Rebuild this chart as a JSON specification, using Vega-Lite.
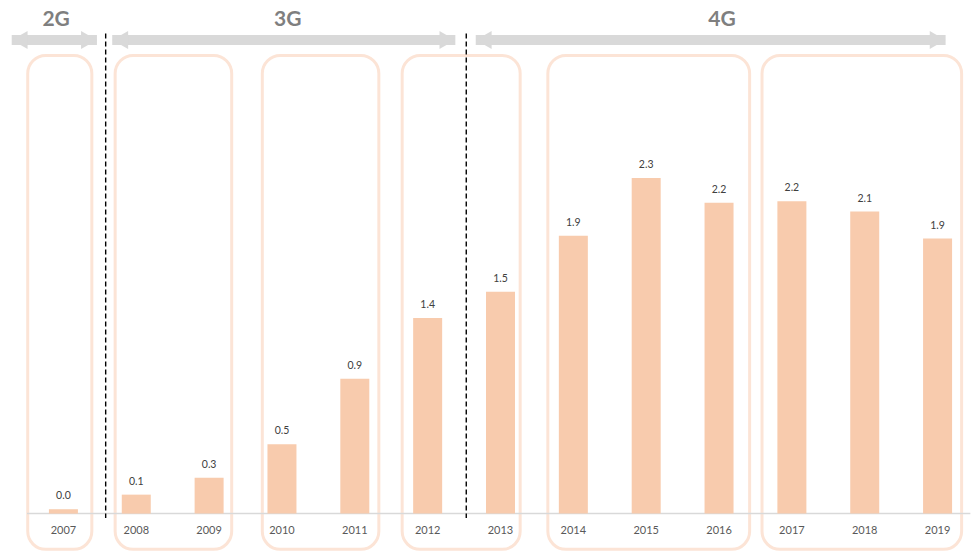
{
  "$schema": "https://vega.github.io/schema/vega-lite/v6.json",
  "width": 947,
  "height": 553,
  "padding": {"left": 27, "right": 0, "top": 0, "bottom": 0},
  "autosize": {"type": "none"},
  "config": {"view": {"stroke": null}, "font": "Lato"},
  "datasets": {
    "bars": [
      {"year": 2007, "value": 0.03, "label": "0.0"},
      {"year": 2008, "value": 0.13, "label": "0.1"},
      {"year": 2009, "value": 0.245, "label": "0.3"},
      {"year": 2010, "value": 0.475, "label": "0.5"},
      {"year": 2011, "value": 0.925, "label": "0.9"},
      {"year": 2012, "value": 1.34, "label": "1.4"},
      {"year": 2013, "value": 1.52, "label": "1.5"},
      {"year": 2014, "value": 1.905, "label": "1.9"},
      {"year": 2015, "value": 2.3, "label": "2.3"},
      {"year": 2016, "value": 2.13, "label": "2.2"},
      {"year": 2017, "value": 2.14, "label": "2.2"},
      {"year": 2018, "value": 2.07, "label": "2.1"},
      {"year": 2019, "value": 1.885, "label": "1.9"}
    ],
    "groups": [
      {"start": 2006.51, "end": 2007.39},
      {"start": 2007.71, "end": 2009.31},
      {"start": 2009.73, "end": 2011.33},
      {"start": 2011.65, "end": 2013.27},
      {"start": 2013.65, "end": 2016.42},
      {"start": 2016.59, "end": 2019.33}
    ],
    "dividers": [{"x": 2007.58}, {"x": 2012.53}],
    "eras": [
      {"era": "2G", "start": 2006.29, "end": 2007.46, "mid": 2006.9},
      {"era": "3G", "start": 2007.67, "end": 2012.38, "mid": 2010.08},
      {"era": "4G", "start": 2012.66, "end": 2019.11, "mid": 2016.04}
    ]
  },
  "layer": [
    {
      "data": {"name": "groups"},
      "mark": {"type": "rect", "cornerRadius": 18, "fill": null, "fillOpacity": 0, "stroke": "#fce4d6", "strokeWidth": 3},
      "encoding": {
        "x": {"field": "start", "type": "quantitative", "scale": {"domain": [2006.5, 2019.5], "nice": false, "zero": false, "padding": 0}, "axis": null},
        "x2": {"field": "end"},
        "y": {"datum": 3.14, "type": "quantitative", "scale": {"domain": [-0.27, 3.52], "nice": false, "zero": false, "padding": 0}, "axis": null},
        "y2": {"datum": -0.245}
      }
    },
    {
      "data": {"values": [{"a": 1}]},
      "mark": {"type": "rule", "color": "#d9d9d9", "strokeWidth": 1.5},
      "encoding": {
        "x": {"datum": 2006.5, "type": "quantitative"},
        "x2": {"datum": 2019.45},
        "y": {"datum": 0, "type": "quantitative"}
      }
    },
    {
      "data": {"name": "dividers"},
      "mark": {"type": "rule", "color": "#000000", "strokeWidth": 1.4, "strokeDash": [5, 3]},
      "encoding": {
        "x": {"field": "x", "type": "quantitative"},
        "y": {"datum": 3.29, "type": "quantitative"},
        "y2": {"datum": -0.03}
      }
    },
    {
      "data": {"name": "bars"},
      "mark": {"type": "bar", "width": 29, "color": "#f8cbad"},
      "encoding": {
        "x": {"field": "year", "type": "quantitative"},
        "y": {"field": "value", "type": "quantitative"},
        "y2": {"datum": 0}
      }
    },
    {
      "data": {"name": "bars"},
      "mark": {"type": "text", "fontSize": 10.5, "color": "#404040", "baseline": "bottom", "dy": -8},
      "encoding": {
        "x": {"field": "year", "type": "quantitative"},
        "y": {"field": "value", "type": "quantitative"},
        "text": {"field": "label"}
      }
    },
    {
      "data": {"name": "bars"},
      "mark": {"type": "text", "fontSize": 11, "color": "#595959", "baseline": "middle"},
      "encoding": {
        "x": {"field": "year", "type": "quantitative"},
        "y": {"datum": -0.12, "type": "quantitative"},
        "text": {"field": "year", "type": "quantitative", "format": "d"}
      }
    },
    {
      "data": {"name": "eras"},
      "mark": {"type": "rule", "color": "#d9d9d9", "strokeWidth": 10, "strokeCap": "butt"},
      "encoding": {
        "x": {"field": "start", "type": "quantitative"},
        "x2": {"field": "end"},
        "y": {"datum": 3.246, "type": "quantitative"}
      }
    },
    {
      "data": {"name": "eras"},
      "mark": {"type": "point", "shape": "triangle-left", "filled": true, "size": 330, "color": "#d9d9d9", "opacity": 1, "xOffset": 8},
      "encoding": {
        "x": {"field": "start", "type": "quantitative"},
        "y": {"datum": 3.246, "type": "quantitative"}
      }
    },
    {
      "data": {"name": "eras"},
      "mark": {"type": "point", "shape": "triangle-right", "filled": true, "size": 330, "color": "#d9d9d9", "opacity": 1, "xOffset": -8},
      "encoding": {
        "x": {"field": "end", "type": "quantitative"},
        "y": {"datum": 3.246, "type": "quantitative"}
      }
    },
    {
      "data": {"name": "eras"},
      "mark": {"type": "text", "fontSize": 21, "fontWeight": "bold", "color": "#7f7f7f", "baseline": "middle"},
      "encoding": {
        "x": {"field": "mid", "type": "quantitative"},
        "y": {"datum": 3.385, "type": "quantitative"},
        "text": {"field": "era"}
      }
    }
  ]
}
